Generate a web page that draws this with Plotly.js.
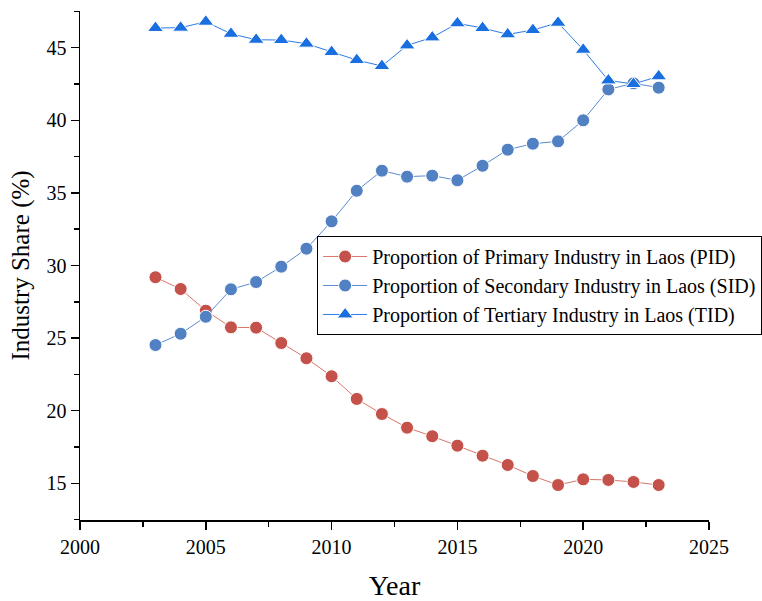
<!DOCTYPE html>
<html>
<head>
<meta charset="utf-8">
<script src="https://cdn.plot.ly/plotly-3.0.1.min.js"></script>
<style>html,body{margin:0;padding:0;background:#fff;}#chart{width:762px;height:601px;}</style>
</head>
<body>
<div id="chart"></div>
<script>
const years = [2003,2004,2005,2006,2007,2008,2009,2010,2011,2012,2013,2014,2015,2016,2017,2018,2019,2020,2021,2022,2023];
const pid = [29.19,28.38,26.89,25.74,25.72,24.66,23.61,22.37,20.81,19.77,18.83,18.24,17.59,16.90,16.26,15.50,14.88,15.27,15.23,15.09,14.88];
const sid = [24.52,25.30,26.47,28.36,28.86,29.92,31.16,33.04,35.15,36.53,36.12,36.19,35.87,36.87,37.98,38.39,38.55,40.00,42.13,42.55,42.25];
const tid = [46.36,46.38,46.79,45.96,45.55,45.53,45.28,44.70,44.15,43.74,45.16,45.71,46.68,46.36,45.92,46.22,46.72,44.86,42.75,42.50,43.03];
const names = ["Proportion of Primary Industry in Laos (PID)","Proportion of Secondary Industry in Laos (SID)","Proportion of Tertiary Industry in Laos (TID)"];

const font = "Liberation Serif, Times New Roman, serif";
const traces = [
  {x: years, y: pid, name: names[0], mode: "lines+markers",
   line: {color: "#D9756B", width: 1},
   marker: {symbol: "circle", size: 13, color: "#C4524A", line: {color: "#fff", width: 1}}},
  {x: years, y: sid, name: names[1], mode: "lines+markers",
   line: {color: "#5B8BCF", width: 1},
   marker: {symbol: "circle", size: 13, color: "#5181C3", line: {color: "#fff", width: 1}}},
  {x: years, y: tid, name: names[2], mode: "lines+markers",
   line: {color: "#2B7BE6", width: 1},
   marker: {symbol: "triangle-up", size: 14, color: "#1A6FE0", line: {color: "#fff", width: 1}}}
];
const axisCommon = {
  showline: true, linecolor: "#000", linewidth: 1.5, mirror: false,
  ticks: "outside", ticklen: 8, tickwidth: 1.5, tickcolor: "#000",
  showgrid: false, zeroline: false, automargin: false,
  tickfont: {family: font, size: 20, color: "#000"}
};
const layout = {
  width: 762, height: 601,
  margin: {l: 80, r: 53, t: 11, b: 81, autoexpand: false},
  paper_bgcolor: "#fff", plot_bgcolor: "#fff",
  font: {family: font, color: "#000"},
  showlegend: true,
  xaxis: Object.assign({}, axisCommon, {
    range: [2000, 2025], dtick: 5, tick0: 2000,
    minor: {dtick: 2.5, ticks: "outside", ticklen: 5, tickwidth: 1.5, tickcolor: "#000"},
    title: {text: "Year", font: {family: font, size: 28, color: "#000"}, standoff: 20}
  }),
  yaxis: Object.assign({}, axisCommon, {
    range: [12.47, 47.53], dtick: 5, tick0: 15,
    minor: {dtick: 2.5, ticks: "outside", ticklen: 5, tickwidth: 1.5, tickcolor: "#000"},
    title: {text: "Industry Share (%)", font: {family: font, size: 25, color: "#000"}, standoff: 10}
  }),
  legend: {
    x: 0.377, y: 0.558, xanchor: "left", yanchor: "top",
    bgcolor: "#fff", bordercolor: "#000", borderwidth: 1,
    font: {family: font, size: 20, color: "#000"},
    tracegroupgap: 0, itemwidth: 44
  }
};
Plotly.newPlot("chart", traces, layout, {displayModeBar: false, staticPlot: true});
</script>
</body>
</html>
